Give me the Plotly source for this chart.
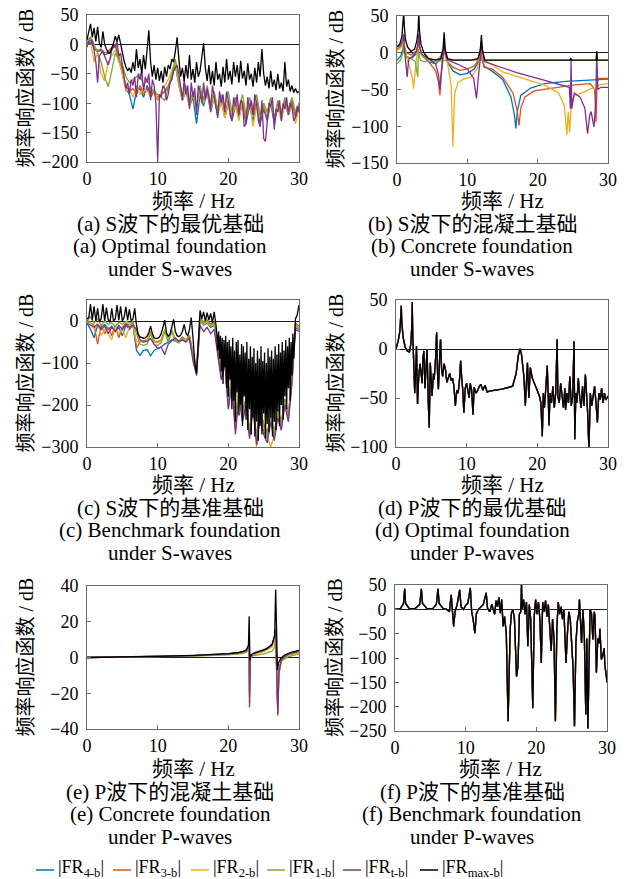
import plotly.graph_objects as go

W, H = 627, 879
FONT = "Liberation Serif, Noto Sans CJK SC, serif"

SERIES = ["|FR<sub>4-b</sub>|", "|FR<sub>3-b</sub>|", "|FR<sub>2-b</sub>|",
          "|FR<sub>1-b</sub>|", "|FR<sub>t-b</sub>|", "|FR<sub>max-b</sub>|"]
COLORS = ["#0072BD", "#D95319", "#EDB120", "#77AC30", "#7E2F8E", "#000000"]

# sampling frequencies (Hz)
FREQ_Q = [
    0.0, 0.25, 0.5, 0.75, 1.0, 1.25, 1.5, 1.75, 2.0, 2.25,
    2.5, 2.75, 3.0, 3.25, 3.5, 3.75, 4.0, 4.25, 4.5, 4.75,
    5.0, 5.25, 5.5, 5.75, 6.0, 6.25, 6.5, 6.75, 7.0, 7.25,
    7.5, 7.75, 8.0, 8.25, 8.5, 8.75, 9.0, 9.25, 9.5, 9.75,
    10.0, 10.25, 10.5, 10.75, 11.0, 11.25, 11.5, 11.75, 12.0, 12.25,
    12.5, 12.75, 13.0, 13.25, 13.5, 13.75, 14.0, 14.25, 14.5, 14.75,
    15.0, 15.25, 15.5, 15.75, 16.0, 16.25, 16.5, 16.75, 17.0, 17.25,
    17.5, 17.75, 18.0, 18.25, 18.5, 18.75, 19.0, 19.25, 19.5, 19.75,
    20.0, 20.25, 20.5, 20.75, 21.0, 21.25, 21.5, 21.75, 22.0, 22.25,
    22.5, 22.75, 23.0, 23.25, 23.5, 23.75, 24.0, 24.25, 24.5, 24.75,
    25.0, 25.25, 25.5, 25.75, 26.0, 26.25, 26.5, 26.75, 27.0, 27.25,
    27.5, 27.75, 28.0, 28.25, 28.5, 28.75, 29.0, 29.25, 29.5, 29.75,
    30.0]
FREQ_H = [
    0.0, 0.5, 1.0, 1.5, 2.0, 2.5, 3.0, 3.5, 4.0, 4.5,
    5.0, 5.5, 6.0, 6.5, 7.0, 7.5, 8.0, 8.5, 9.0, 9.5,
    10.0, 10.5, 11.0, 11.5, 12.0, 12.5, 13.0, 13.5, 14.0, 14.5,
    15.0, 15.5, 16.0, 16.5, 17.0, 17.5, 18.0, 18.5, 19.0, 19.5,
    20.0, 20.5, 21.0, 21.5, 22.0, 22.5, 23.0, 23.5, 24.0, 24.5,
    25.0, 25.5, 26.0, 26.5, 27.0, 27.5, 28.0, 28.5, 29.0, 29.5,
    30.0]
# finer sampling used over the dense band of panel (c)
FREQ_E = [
    18.375, 18.5, 18.625, 18.75, 18.875,
    19.0, 19.125, 19.25, 19.375, 19.5, 19.625, 19.75, 19.875,
    20.0, 20.125, 20.25, 20.375, 20.5, 20.625, 20.75, 20.875,
    21.0, 21.125, 21.25, 21.375, 21.5, 21.625, 21.75, 21.875,
    22.0, 22.125, 22.25, 22.375, 22.5, 22.625, 22.75, 22.875,
    23.0, 23.125, 23.25, 23.375, 23.5, 23.625, 23.75, 23.875,
    24.0, 24.125, 24.25, 24.375, 24.5, 24.625, 24.75, 24.875,
    25.0, 25.125, 25.25, 25.375, 25.5, 25.625, 25.75, 25.875,
    26.0, 26.125, 26.25, 26.375, 26.5, 26.625, 26.75, 26.875,
    27.0, 27.125, 27.25, 27.375, 27.5, 27.625, 27.75, 27.875,
    28.0, 28.125, 28.25, 28.375, 28.5, 28.625, 28.75, 28.875,
    29.0, 29.125, 29.25, 29.375]
FREQ_TAIL = [29.5, 29.75, 30.0]

# ---- (a) optimal foundation, S-waves (dB) ----
A_MAX = [
    8, 22, 35, 12, 28, 5, 30, 2, -5, 22,
    0, -8, -14, -15, -8, 2, 14, 5, 16, 0,
    -10, -28, -38, -45, -40, -48, -30, -45, -8, -40,
    -25, -50, -18, -42, -10, 24, -30, -55, -35, -60,
    -40, -62, -45, -65, -38, -55, -35, -42, -25, -30,
    -12, 12, -25, -55, -40, -62, -35, -58, -18, -60,
    -42, -65, -30, -55, -45, -20, 2, -40, -62, -35,
    -68, -45, -70, -30, -60, -50, -72, -38, -65, -25,
    -60, -45, -68, -30, -55, -35, -65, -28, -58, -45,
    -70, -32, -60, -50, -72, -40, -65, -30, -55, -8,
    -50, -70, -55, -75, -45, -72, -60, -78, -50, -75,
    -65, -80, -30, -72, -60, -80, -70, -82, -75, -82,
    -80]
A_T = [
    -5, 5, 0, 8, -10, -30, -65, -20, -15, -12,
    -20, -28, -35, -25, -10, -2, -5, 5, -20, -15,
    -40, -55, -75, -65, -85, -60, -70, -55, -90, -50,
    -60, -45, -80, -55, -65, -50, -95, -60, -70, -100,
    -200, -85, -90, -70, -75, -95, -85, -65, -60, -45,
    -40, -35, -50, -75, -95, -60, -85, -70, -110, -65,
    -90, -75, -120, -70, -80, -100, -65, -95, -75, -90,
    -110, -70, -90, -105, -125, -80, -100, -85, -115, -80,
    -95, -120, -130, -90, -105, -85, -120, -95, -100, -140,
    -135, -90, -110, -95, -120, -85, -100, -130, -140, -95,
    -160, -165, -125, -100, -105, -90, -145, -110, -115, -95,
    -130, -100, -110, -90, -120, -100, -105, -130, -125, -105,
    -115]
A_1 = [
    5, 10, 0, -15, -30, -55, -72, -45, -15, -25,
    -35, -55, -65, -60, -55, -50, -70, -60, -75, -80,
    -85, -90, -95, -75, -50, -25, -60, -85, -70, -100,
    -80, -105, -70, -95, -70, -100, -80, -110, -85, -105,
    -80, -115, -90, -110, -85, -120, -90, -110, -85, -120,
    -100, -115, -90, -125, -95, -115, -90, -110, -90, -115,
    -100]
A_2 = [
    0, 5, -30, -15, -50, -62, -30, -20, -10, -30,
    -50, -80, -75, -90, -70, -85, -75, -80, -85, -75,
    -95, -80, -70, -60, -45, -30, -70, -95, -75, -105,
    -85, -110, -80, -100, -75, -110, -90, -120, -95, -125,
    -100, -120, -105, -130, -95, -120, -100, -140, -105, -125,
    -100, -120, -95, -125, -105, -130, -100, -120, -105, -135,
    -110]
A_3 = [
    8, 12, -5, -10, -8, -15, -12, -5, 0, -20,
    -45, -70, -80, -75, -85, -70, -85, -75, -90, -80,
    -90, -85, -80, -70, -55, -35, -65, -90, -75, -100,
    -85, -105, -80, -100, -80, -110, -85, -115, -90, -120,
    -95, -125, -100, -120, -95, -130, -100, -120, -95, -130,
    -105, -125, -95, -130, -100, -120, -95, -115, -95, -120,
    -100]
A_4 = [
    3, 8, -8, -12, -10, -18, -15, -8, -2, -25,
    -50, -75, -85, -110, -80, -75, -90, -70, -85, -80,
    -95, -85, -80, -75, -55, -35, -70, -95, -80, -105,
    -90, -135, -85, -105, -80, -115, -90, -120, -95, -125,
    -100, -130, -105, -125, -100, -135, -105, -130, -100, -135,
    -110, -130, -100, -135, -105, -125, -100, -120, -95, -125,
    -105]

# ---- (b) concrete foundation, S-waves ----
B_MAX_F = [0, 0.4, 0.7, 0.85, 0.95, 1.05, 1.2, 1.5, 2.0, 2.5, 2.8, 3.0, 3.1, 3.2,
           3.4, 3.8, 4.5, 5.5, 6.2, 6.55, 6.7, 6.85, 7.2, 8.0, 9.0, 10.5, 11.5,
           11.85, 12.0, 12.15, 12.5, 13.5, 15.0, 20.0, 24.6, 24.7, 24.8, 28.3,
           28.4, 28.5, 30.0]
B_MAX = [8, 12, 22, 35, 55, 35, 18, 8, 2, 5, 15, 30, 55, 30,
         12, 0, -8, -10, -8, 5, 28, 5, -8, -10, -10, -10, -8,
         3, 24, 3, -10, -10, -10, -10, -10, -7, -10, -10,
         2, -10, -10]
B_4_F = [0, 0.5, 0.85, 0.95, 1.05, 1.3, 2.0, 2.7, 3.0, 3.1, 3.2, 3.5, 4.5, 5.5,
         6.3, 6.6, 6.7, 6.8, 7.1, 8.0, 9.0, 10.0, 11.0, 11.7, 11.95, 12.05, 12.4,
         13.5, 15.0, 16.2, 16.7, 16.9, 17.1, 17.6, 19.0, 21.0, 24.0, 27.0, 30.0]
B_4 = [-10, -5, 5, 20, 5, -5, -8, -2, 10, 22, 8, -3, -12, -15,
       -8, 5, 18, 5, -12, -25, -30, -28, -22, -10, 15, -8, -18,
       -25, -36, -60, -85, -103, -80, -58, -48, -42, -39, -38, -36]
B_3_F = [0, 0.5, 0.85, 0.95, 1.05, 1.3, 2.0, 2.7, 3.0, 3.1, 3.2, 3.5, 4.5, 5.5,
         5.9, 6.1, 6.3, 6.6, 6.7, 6.8, 7.1, 8.0, 9.0, 10.0, 11.0, 11.7, 11.95,
         12.05, 12.4, 13.5, 15.0, 16.5, 17.1, 17.35, 17.6, 18.2, 19.5, 22.0,
         25.0, 27.5, 28.1, 28.3, 28.45, 28.7, 30.0]
B_3 = [5, 8, 15, 25, 10, 0, -3, 2, 12, 25, 10, -2, -12, -25,
       -40, -58, -30, -5, 15, 0, -12, -20, -24, -22, -18, -8, 12,
       -8, -20, -22, -33, -55, -80, -99, -75, -60, -52, -48,
       -44, -42, -50, -95, -40, -35, -35]
B_2_F = [0, 0.5, 0.85, 0.95, 1.05, 1.3, 1.8, 2.2, 2.35, 2.5, 2.8, 3.0, 3.1, 3.2,
         3.5, 4.5, 5.5, 6.2, 6.6, 6.7, 6.8, 7.2, 7.7, 7.95, 8.2, 8.7, 9.5, 10.5,
         11.4, 11.9, 12.05, 12.4, 13.5, 15.0, 17.0, 19.0, 21.0, 23.0, 23.8,
         24.15, 24.35, 24.55, 24.8, 25.3, 26.5, 27.8, 28.3, 28.7, 30.0]
B_2 = [3, 6, 12, 22, 8, -5, -20, -35, -49, -30, -5, 10, 22, 8,
       -3, -8, -10, -5, 5, 18, 3, -15, -45, -128, -55, -40, -36, -33,
       -22, -5, 10, -10, -16, -26, -32, -38, -44, -55, -72,
       -112, -80, -108, -65, -58, -54, -48, -50, -44, -42]
B_1_F = [0, 0.5, 0.85, 0.95, 1.05, 1.4, 2.0, 2.6, 2.95, 3.05, 3.15, 3.3, 3.8,
         5.0, 6.5, 7.0, 9.0, 12.0, 15.0, 20.0, 25.0, 30.0]
B_1 = [-15, -10, 0, 12, 0, -5, -8, -12, -33, 5, -2, -10, -12,
       -12, -11, -10, -10, -10, -10, -10, -10, -10]
B_T_F = [0, 0.5, 0.85, 0.95, 1.05, 1.3, 1.45, 1.55, 1.7, 2.2, 2.8, 3.0, 3.1, 3.2,
         3.5, 4.5, 5.5, 5.9, 6.1, 6.3, 6.6, 6.7, 6.8, 7.2, 8.5, 10.0, 10.9,
         11.3, 11.6, 11.9, 12.05, 12.4, 14.0, 17.0, 20.0, 23.0, 24.5, 24.65,
         24.75, 24.85, 25.2, 26.0, 26.7, 27.1, 27.4, 27.6, 28.0, 28.25, 28.4,
         28.55, 29.0, 30.0]
B_T = [8, 10, 18, 25, 5, -15, -33, -20, -8, -5, 2, 12, 25, 8,
       -2, -8, -15, -30, -50, -25, 0, 15, 0, -10, -15, -22, -35,
       -62, -30, -5, 10, -12, -17, -27, -35, -43, -47, -76,
       -8, -76, -55, -60, -75, -110, -85, -80, -101, -70, 0,
       -50, -47, -47]

# ---- (c) benchmark foundation, S-waves ----
# envelope on FREQ_Q up to 18.25 Hz, then FREQ_E, then FREQ_TAIL
C_MAX_LOW = [
    5, 8, 40, 2, 35, 0, 30, -2, 5, 40,
    0, 32, 3, -3, 30, 0, 5, 38, 2, 35,
    0, 8, 34, 2, 28, 0, 5, 30, -10, -32,
    -38, -40, -41, -40, -36, -28, -12, -30, -40, -42,
    -41, -38, -30, -15, 2, -28, -36, -32, -15, 4,
    -25, -35, -37, -34, -25, -8, -28, -36, -20, 8,
    -40, -100, -125, -60, 25, 5, 22, 0, 20, 2,
    18, -5, 22, -10]
C_MAX_BAND = [
    -30, -70, -25, -90, -35,
    -120, -40, -150, -45, -110, -35, -160, -50,
    -180, -45, -140, -60, -210, -40, -190, -70,
    -240, -50, -170, -45, -225, -80, -200, -55,
    -250, -60, -180, -75, -235, -50, -260, -90,
    -210, -60, -270, -85, -230, -65, -275, -100,
    -240, -70, -285, -90, -250, -60, -270, -95,
    -220, -75, -280, -100, -245, -65, -265, -85,
    -230, -70, -275, -90, -240, -60, -260, -80,
    -215, -55, -250, -75, -200, -50, -235, -70,
    -180, -45, -210, -60, -160, -40, -190, -50,
    -130, -30, -90, -10]
C_MAX_TAIL = [5, 15, 38]
C_T = [
    -5, -10, -15, -8, -20, -12, -30, -15, -25, -10,
    -20, -8, -15, -10, -20, -45, -50, -48, -42, -55,
    -65, -62, -80, -55, -48, -40, -48, -45, -50, -40,
    -95, -130, -10, -25, -15, -30, -20, -80, -140, -100,
    -210, -150, -270, -180, -240, -200, -280, -210, -295, -230,
    -270, -290, -240, -285, -230, -260, -200, -240, -150, -20,
    -25]
C_1 = [
    0, 10, -5, 5, -10, 0, -8, -5, -12, -3,
    -8, 0, -5, -2, -30, -55, -58, -55, -30, -56,
    -58, -52, -25, -50, -25, -48, -52, -40, -50, -35,
    -80, -120, 5, -5, 0, -10, -5, -70, -130, -90,
    -200, -130, -250, -160, -220, -190, -265, -200, -280, -210,
    -250, -270, -230, -270, -215, -245, -190, -225, -140, -10,
    -15]
C_2 = [
    2, -3, -20, -5, -35, -20, -30, -45, -15, -30,
    -20, -40, -12, -8, -50, -48, -50, -45, -28, -50,
    -52, -48, -22, -48, -22, -46, -50, -40, -46, -38,
    -85, -115, 3, -8, -3, -12, -8, -72, -132, -92,
    -202, -135, -252, -165, -225, -192, -268, -202, -300, -215,
    -255, -275, -300, -272, -218, -248, -192, -228, -142, -12,
    -18]
C_3 = [
    0, -5, -10, -55, -10, -30, -15, -35, -10, -40,
    -15, -5, -10, -5, -65, -50, -48, -45, -25, -48,
    -50, -45, -20, -45, -20, -45, -48, -38, -45, -35,
    -75, -110, 8, -2, 3, -8, -2, -65, -125, -85,
    -195, -125, -245, -155, -215, -185, -260, -195, -275, -205,
    -245, -265, -225, -265, -210, -240, -185, -220, -135, -5,
    -12]
C_4 = [
    -5, -20, -40, -10, -15, -8, -20, -12, -25, -15,
    -35, -10, -20, -10, -70, -82, -70, -68, -83, -70,
    -66, -62, -55, -50, -45, -48, -50, -45, -48, -40,
    -90, -125, 0, -10, -5, -15, -10, -75, -135, -95,
    -205, -140, -255, -170, -230, -195, -270, -205, -285, -220,
    -260, -280, -235, -275, -220, -250, -195, -230, -145, -15,
    -20]

# ---- (d) optimal foundation, P-waves: (frequency, dB) ----
D_MAX_PTS = [
    (0, 0), (0.3, 8), (0.55, 18), (0.7, 35), (0.75, 44), (0.8, 30), (1.0, 12),
    (1.3, 2), (1.6, -2), (1.9, -3), (2.1, 5), (2.25, 25), (2.3, 48), (2.35, 20),
    (2.5, -10), (2.65, -45), (2.8, -20), (2.9, 3), (3.05, -56), (3.2, -30),
    (3.4, -15), (3.5, -25), (3.7, -35), (3.8, -10), (3.95, -2), (4.1, -40),
    (4.25, -20), (4.4, 0), (4.55, -50), (4.7, -80), (4.85, -14), (5.0, -30),
    (5.1, -48), (5.3, -25), (5.4, -31), (5.6, -10), (5.75, 17), (5.9, -30),
    (6.0, -41), (6.2, -5), (6.3, 10), (6.45, -20), (6.6, -28), (6.8, -15),
    (7.0, -21), (7.2, -34), (7.4, -28), (7.6, -25), (7.8, -32), (8.0, -30),
    (8.2, -38), (8.4, -58), (8.6, -42), (8.8, -45), (9.0, -30), (9.15, -12),
    (9.3, -30), (9.45, -42), (9.6, -65), (9.8, -40), (10.0, -35), (10.2, -45),
    (10.35, -50), (10.5, -35), (10.7, -42), (10.9, -67), (11.05, -39),
    (11.3, -45), (11.5, -43), (11.8, -38), (12.0, -36), (12.3, -42),
    (12.6, -37), (12.9, -44), (13.2, -43), (15.0, -41), (16.5, -38),
    (17.0, -25), (17.3, -7), (17.55, 0), (17.75, -5), (17.9, -15), (18.1, -28),
    (18.3, -58), (18.45, -30), (18.6, -14), (18.8, -50), (19.0, -19),
    (19.3, -30), (19.6, -36), (20.0, -42), (20.3, -48), (20.5, -55),
    (20.7, -89), (20.85, -45), (21.0, -60), (21.2, -40), (21.4, -17),
    (21.55, -50), (21.65, -78), (21.8, -45), (22.0, -55), (22.2, -38),
    (22.4, -60), (22.6, -45), (22.8, 10), (22.9, -48), (23.1, -55),
    (23.3, -35), (23.5, -50), (23.7, -60), (23.9, -40), (24.0, -62),
    (24.2, -45), (24.4, -55), (24.6, -28), (24.8, -58), (25.0, -48),
    (25.2, 8), (25.3, -92), (25.45, -45), (25.6, -55), (25.8, -30),
    (26.0, -50), (26.2, -60), (26.4, -38), (26.6, -58), (26.8, -26),
    (27.0, -50), (27.1, -62), (27.3, -102), (27.5, -45), (27.7, -58),
    (27.9, -48), (28.1, -38), (28.3, -55), (28.5, -75), (28.7, -45),
    (28.9, -52), (29.1, -40), (29.3, -55), (29.5, -45), (29.7, -52),
    (30.0, -48)]

# ---- (e) concrete foundation, P-waves ----
E_MAX_F = [0, 5, 10, 15, 18, 20, 21.5, 22.5, 22.85, 22.95, 23.05, 23.2, 23.6,
           24.5, 25.5, 26.2, 26.55, 26.7, 26.85, 26.95, 27.1, 27.4, 28.0, 29.0, 30.0]
E_MAX = [0, 0.2, 0.6, 1.2, 1.7, 2.2, 2.8, 3.8, 7, 23, -1.5, 1.5, 2.5,
         3.5, 5, 7.5, 12, 38, 2, -7, -3, -0.5, 1.5, 3, 4]
E_F = [0, 10, 15, 20, 22, 22.85, 22.95, 23.0, 23.1, 23.5, 25, 26.2, 26.55,
       26.7, 26.85, 27.0, 27.15, 27.5, 28.5, 30]
E_4 = [0, 0.5, 1, 2, 3, 5, 8, -20, 0, 2, 4, 7, 12, 16, -8, -30, -8, -1, 2, 3.5]
E_3 = [0, 0.45, 0.95, 1.9, 2.9, 4.5, 7, -22, 0, 1.8, 3.6, 6.5, 11, 15, -10, -31, -9, -1.5, 1.5, 3]
E_2 = [0, 0.45, 0.9, 1.8, 2.7, 4.2, 6.5, -25, -0.5, 1.5, 3.3, 6, 10, 14, -12, -33, -10, -2, 1.2, 2.8]
E_1 = [0, 0.4, 0.8, 1.5, 2.2, 3.5, 5, -18, -0.5, 1, 2, 3.5, 6, 12, -6, -28, -6, -2, 0.5, 2]
E_T = [0, 0.5, 1, 2, 3, 5, 8, -28, 0, 2, 4, 7, 12, 15, -10, -32, -9, -1, 2, 3.5]

# ---- (f) benchmark foundation, P-waves: (frequency, dB) ----
F_MAX_PTS = [
    (0, 0), (0.8, 2), (1.2, 12), (1.37, 42), (1.5, 12), (2.0, 2), (2.8, 1),
    (3.5, 10), (3.73, 42), (3.9, 12), (4.5, 2), (5.3, 1), (5.85, 10),
    (6.08, 42), (6.25, 12), (6.8, 2), (7.3, 0), (7.7, -5), (7.95, 30),
    (8.1, -10), (8.3, -35), (8.5, -5), (8.8, 10), (9.15, 40), (9.35, 5),
    (9.7, 0), (10.0, 8), (10.3, 12), (10.66, 44), (10.85, -5), (11.05, -20),
    (11.3, -49), (11.5, -10), (11.8, 0), (12.2, 5), (12.5, 10), (12.9, 34),
    (13.1, 2), (13.4, -5), (13.7, 10), (13.9, 0), (14.1, -10), (14.3, 18),
    (14.5, 5), (14.7, 25), (14.9, -8), (15.1, 20), (15.3, -35), (15.5, -15),
    (15.75, -49), (16.0, -230), (16.15, -110), (16.3, -40), (16.5, -5),
    (16.7, -2), (16.9, -20), (17.1, -90), (17.2, -138), (17.4, -117),
    (17.6, -10), (17.8, -5), (17.9, 50), (18.0, 0), (18.2, 20), (18.4, -10),
    (18.6, 15), (18.8, -76), (19.0, 10), (19.2, -20), (19.5, -203),
    (19.7, -15), (19.9, 20), (20.1, -10), (20.3, 15), (20.5, -20),
    (20.7, -110), (20.9, 15), (21.1, -5), (21.3, 18), (21.5, -15),
    (21.7, 10), (21.9, -30), (22.1, -85), (22.3, -20), (22.5, -60),
    (22.7, -230), (22.9, -40), (23.1, 15), (23.3, -10), (23.5, 5),
    (23.7, -20), (23.9, 0), (24.2, -110), (24.4, -50), (24.6, -5),
    (24.8, -20), (25.0, -62), (25.2, -120), (25.4, -240), (25.6, -70),
    (25.8, -25), (26.0, -10), (26.1, 20), (26.4, -69), (26.6, 0),
    (26.8, -60), (27.0, -216), (27.15, -60), (27.3, -245), (27.5, -40),
    (27.6, 0), (27.8, -8), (28.0, -62), (28.2, -5), (28.3, -15),
    (28.5, -130), (28.7, -60), (28.9, -70), (29.0, -40), (29.2, -103),
    (29.4, -95), (29.6, -80), (29.7, -117), (29.85, -130), (30.0, -150)]


def unzip(pts):
    return [p[0] for p in pts], [p[1] for p in pts]


D_F, D_MAX = unzip(D_MAX_PTS)
F_F, F_MAX = unzip(F_MAX_PTS)
C_MAX_F = FREQ_Q[:len(C_MAX_LOW)] + FREQ_E + FREQ_TAIL
C_MAX = C_MAX_LOW + C_MAX_BAND + C_MAX_TAIL

# panel boxes in pixels: (left, right, top, bottom)
PANELS = [
    dict(box=(87, 299, 15, 162), yr=(-200, 50), yt=[-200, -150, -100, -50, 0, 50],
         data=[(FREQ_H, A_4), (FREQ_H, A_3), (FREQ_H, A_2), (FREQ_H, A_1),
               (FREQ_Q, A_T), (FREQ_Q, A_MAX)]),
    dict(box=(397, 608, 16, 163), yr=(-150, 50), yt=[-150, -100, -50, 0, 50],
         data=[(B_4_F, B_4), (B_3_F, B_3), (B_2_F, B_2), (B_1_F, B_1),
               (B_T_F, B_T), (B_MAX_F, B_MAX)]),
    dict(box=(87, 299, 300, 447), yr=(-300, 50), yt=[-300, -200, -100, 0],
         data=[(FREQ_H, C_4), (FREQ_H, C_3), (FREQ_H, C_2), (FREQ_H, C_1),
               (FREQ_H, C_T), (C_MAX_F, C_MAX)]),
    dict(box=(396, 608, 300, 447), yr=(-100, 50), yt=[-100, -50, 0, 50],
         data=[(D_F, D_MAX)] * 6),
    dict(box=(87, 299, 586, 729), yr=(-40, 40), yt=[-40, -20, 0, 20, 40],
         data=[(E_F, E_4), (E_F, E_3), (E_F, E_2), (E_F, E_1),
               (E_F, E_T), (E_MAX_F, E_MAX)]),
    dict(box=(395, 607, 585, 731), yr=(-250, 50), yt=[-250, -200, -150, -100, -50, 0, 50],
         data=[(F_F, F_MAX)] * 6),
]


def px(x):
    return x / W


def py(y):
    return 1 - y / H


fig = go.Figure()
layout = dict(width=W, height=H, margin=dict(l=0, r=0, t=0, b=0), autosize=False,
              paper_bgcolor="white", plot_bgcolor="white", showlegend=False,
              font=dict(family=FONT, color="black"))

AX = dict(showline=True, linecolor="#6a6a6a", linewidth=1, mirror=True,
          ticks="inside", ticklen=4, tickcolor="#6a6a6a", showgrid=False,
          automargin=False, tickfont=dict(family=FONT, size=18, color="black"))

for i, p in enumerate(PANELS):
    sfx = "" if i == 0 else str(i + 1)
    l, r, t, b = p["box"]
    layout["xaxis" + sfx] = dict(AX, domain=[px(l), px(r)], range=[0, 30],
                                 tickvals=[0, 10, 20, 30], zeroline=False,
                                 anchor="y" + sfx)
    layout["yaxis" + sfx] = dict(AX, domain=[py(b), py(t)], range=list(p["yr"]),
                                 tickvals=p["yt"], zeroline=True,
                                 zerolinecolor="#1a1a1a", zerolinewidth=1.3,
                                 anchor="x" + sfx, ticklabelstandoff=4)
    for k, (xs, ys) in enumerate(p["data"]):
        fig.add_trace(go.Scatter(
            x=xs, y=ys, mode="lines", name=SERIES[k],
            line=dict(color=COLORS[k], width=1.3),
            xaxis="x" + sfx, yaxis="y" + sfx, hoverinfo="skip"))

annotations = []
shapes = []


def text(s, x, y, size, angle=0, anchor="center"):
    annotations.append(dict(text=s, x=px(x), y=py(y), xref="paper", yref="paper",
                            showarrow=False, textangle=angle, xanchor=anchor,
                            yanchor="middle",
                            font=dict(family=FONT, size=size, color="black")))


YTITLE = "频率响应函数 / dB"
XTITLE = "频率 / Hz"
CAPTIONS = [
    ("(a) S波下的最优基础", "(a) Optimal foundation", "under S-waves"),
    ("(b) S波下的混凝土基础", "(b) Concrete foundation", "under S-waves"),
    ("(c) S波下的基准基础", "(c) Benchmark foundation", "under S-waves"),
    ("(d) P波下的最优基础", "(d) Optimal foundation", "under P-waves"),
    ("(e) P波下的混凝土基础", "(e) Concrete foundation", "under P-waves"),
    ("(f) P波下的基准基础", "(f) Benchmark foundation", "under P-waves"),
]
ROW_TITLE_Y = [201, 485, 769]

for i, p in enumerate(PANELS):
    l, r, t, b = p["box"]
    col = i % 2
    row = i // 2
    text(YTITLE, 25 if col == 0 else 335, (t + b) / 2, 20, angle=-90)
    ty = ROW_TITLE_Y[row]
    text(XTITLE, (l + r) / 2, ty, 21)
    cx = 170 if col == 0 else 472
    for j, line in enumerate(CAPTIONS[i]):
        text(line, cx, ty + 22.5 * (j + 1), 21)

# key: short line sample followed by the series label
KEY_X = [36, 113, 191, 267, 343, 420]
for k, name in enumerate(SERIES):
    x0 = KEY_X[k]
    shapes.append(dict(type="line", xref="paper", yref="paper",
                       x0=px(x0), x1=px(x0 + 18), y0=py(870), y1=py(870),
                       line=dict(color=COLORS[k], width=1.5)))
    text(name, x0 + 20, 868, 18, anchor="left")

layout["annotations"] = annotations
layout["shapes"] = shapes
fig.update_layout(**layout)
fig.write_html("out.html")
